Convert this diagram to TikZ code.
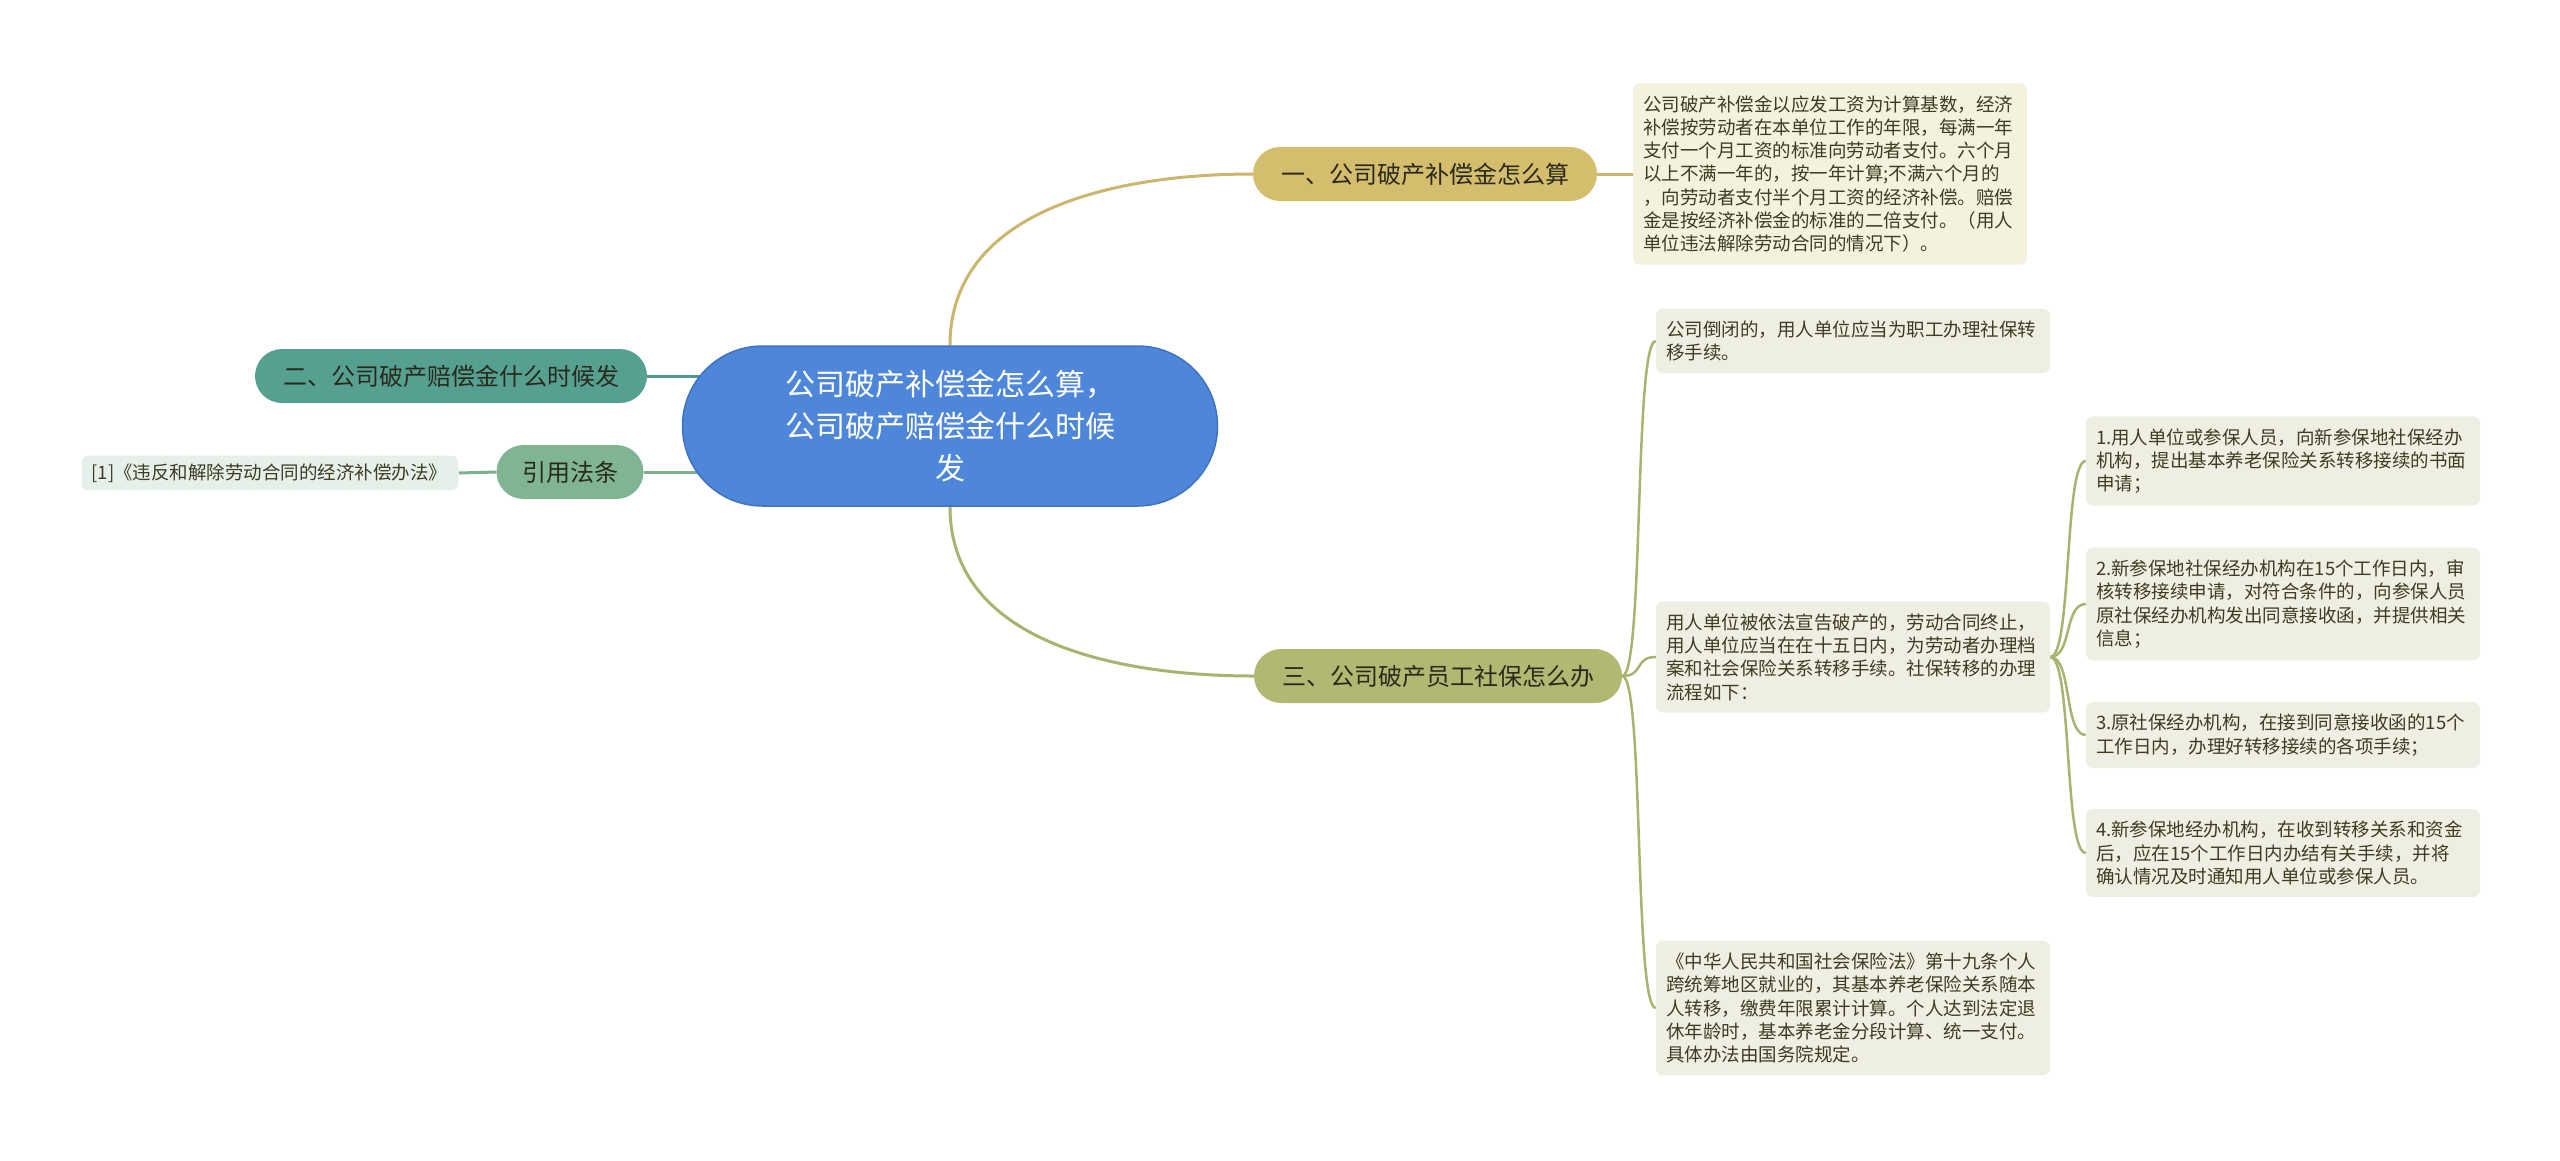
\documentclass[tikz,border=0pt]{standalone}
\usepackage{fontspec}
\setmainfont{Noto Sans CJK SC}
\usetikzlibrary{backgrounds}

\definecolor{rootblue}{HTML}{4E86DA}
\definecolor{rootedge}{HTML}{3F73C0}
\definecolor{gold}{HTML}{D4BD6C}
\definecolor{goldline}{HTML}{CDB56D}
\definecolor{olive}{HTML}{B0B872}
\definecolor{oliveline}{HTML}{A9B26E}
\definecolor{teal}{HTML}{56A092}
\definecolor{tealline}{HTML}{4E978A}
\definecolor{lawgreen}{HTML}{7FB590}
\definecolor{lawline}{HTML}{7AB18B}
\definecolor{leafA}{HTML}{F4F1DF}
\definecolor{leafB}{HTML}{EEEFE2}
\definecolor{leafR}{HTML}{E6F0EA}
\definecolor{leaftext}{HTML}{3E3C22}
\definecolor{topictext}{HTML}{2A2A1C}

\begin{document}
\begin{tikzpicture}[x=1pt, y=-1pt,
    topic/.style={rounded corners=27pt, minimum height=54pt, inner xsep=28pt,
        font=\fontsize{24pt}{28pt}\selectfont, text=topictext},
    leaf/.style={rounded corners=7pt, text width=374pt, inner xsep=10pt, inner ysep=12pt,
        align=left, font=\fontsize{18.5pt}{23.3pt}\selectfont, text=leaftext}]
\useasboundingbox (0,0) rectangle (2560,1160);

\node[fill=rootblue, draw=rootedge, line width=1.5pt, rounded corners=80pt,
    minimum width=535pt, minimum height=160pt, align=center, text=white,
    font=\fontsize{30pt}{42pt}\selectfont] (T0) at (950,426)
    {公司破产补偿金怎么算，\\公司破产赔偿金什么时候\\发};

\node[topic, fill=gold] (T1) at (1425,174) {一、公司破产补偿金怎么算};
\node[topic, fill=teal] (T2) at (451,376) {二、公司破产赔偿金什么时候发};
\node[topic, fill=olive] (T3) at (1438,676) {三、公司破产员工社保怎么办};
\node[topic, fill=lawgreen, minimum width=147pt, inner xsep=0pt] (T4) at (570,472) {引用法条};

\node[leaf, fill=leafA] (L1) at (1830,174) {公司破产补偿金以应发工资为计算基数，经济\\补偿按劳动者在本单位工作的年限，每满一年\\支付一个月工资的标准向劳动者支付。六个月\\以上不满一年的，按一年计算;不满六个月的\\，向劳动者支付半个月工资的经济补偿。赔偿\\金是按经济补偿金的标准的二倍支付。（用人\\单位违法解除劳动合同的情况下）。};
\node[leaf, fill=leafB] (L2) at (1853,341) {公司倒闭的，用人单位应当为职工办理社保转\\移手续。};
\node[leaf, fill=leafB] (L3) at (1853,657) {用人单位被依法宣告破产的，劳动合同终止，\\用人单位应当在在十五日内，为劳动者办理档\\案和社会保险关系转移手续。社保转移的办理\\流程如下：};
\node[leaf, fill=leafB] (L4) at (1853,1008) {《中华人民共和国社会保险法》第十九条个人\\跨统筹地区就业的，其基本养老保险关系随本\\人转移，缴费年限累计计算。个人达到法定退\\休年龄时，基本养老金分段计算、统一支付。\\具体办法由国务院规定。};

\node[leaf, fill=leafB] (S1) at (2283,461) {1.用人单位或参保人员，向新参保地社保经办\\机构，提出基本养老保险关系转移接续的书面\\申请；};
\node[leaf, fill=leafB] (S2) at (2283,604) {2.新参保地社保经办机构在15个工作日内，审\\核转移接续申请，对符合条件的，向参保人员\\原社保经办机构发出同意接收函，并提供相关\\信息；};
\node[leaf, fill=leafB] (S3) at (2283,735) {3.原社保经办机构，在接到同意接收函的15个\\工作日内，办理好转移接续的各项手续；};
\node[leaf, fill=leafB] (S4) at (2283,853) {4.新参保地经办机构，在收到转移关系和资金\\后，应在15个工作日内办结有关手续，并将\\确认情况及时通知用人单位或参保人员。};

\node[leaf, fill=leafR, text width=357pt, inner ysep=8pt, font=\fontsize{18.5pt}{22pt}\selectfont] (R1) at (270,473) {[1]《违反和解除劳动合同的经济补偿办法》};

\begin{scope}[on background layer]
\path[line width=3pt]
    (T0.north) edge[goldline, out=90, in=180] (T1.west)
    (T0.south) edge[oliveline, out=-90, in=180] (T3.west)
    (T2.east) edge[tealline] (T2.east -| T0.center)
    (T4.east) edge[lawline] (T4.east -| T0.center)
    (T4.west) edge[lawline] (R1.east)
    (T1.east) edge[goldline] (L1.west);
\path[line width=2.5pt, oliveline, every edge/.style={draw, out=0, in=180, distance=22pt}]
    (T3.east) edge (L2.west)
    (T3.east) edge (L3.west)
    (T3.east) edge (L4.west)
    (L3.east) edge (S1.west)
    (L3.east) edge (S2.west)
    (L3.east) edge (S3.west)
    (L3.east) edge (S4.west);
\end{scope}
\end{tikzpicture}
\end{document}
